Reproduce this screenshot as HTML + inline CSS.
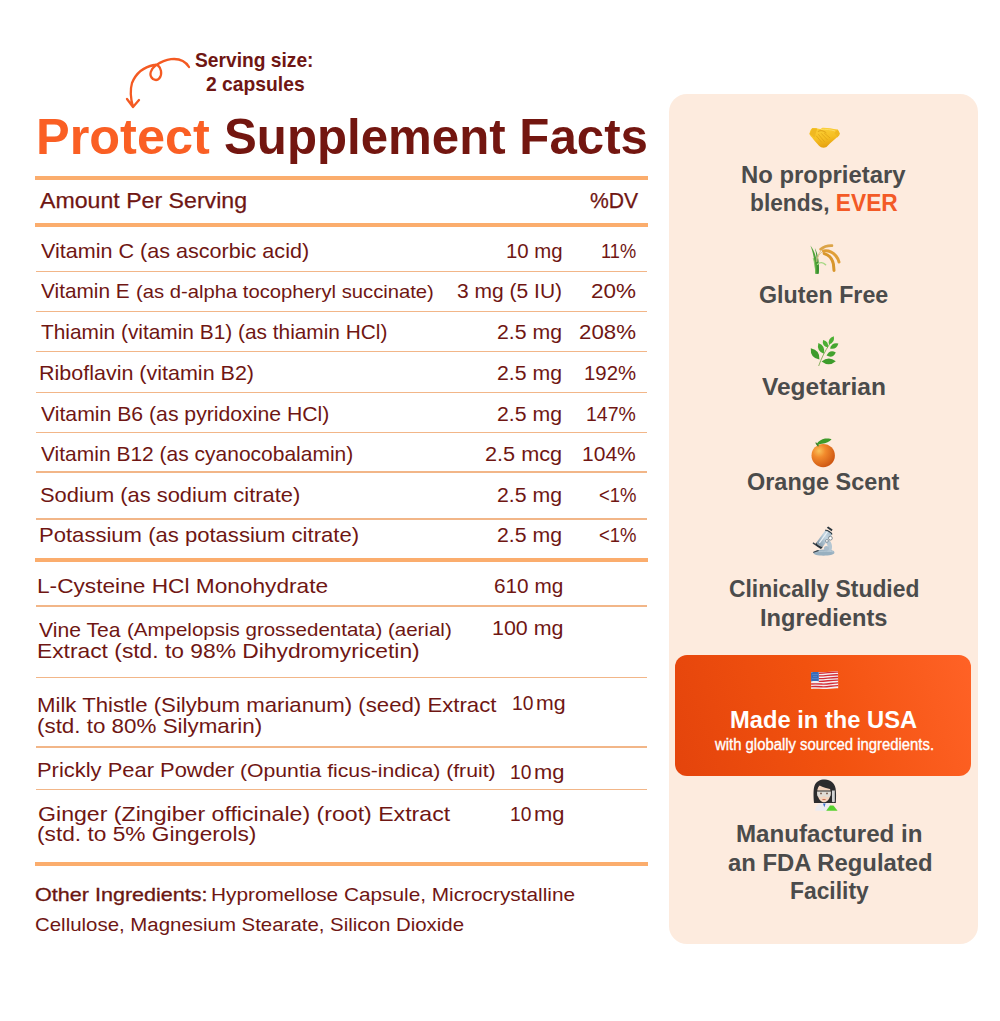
<!DOCTYPE html>
<html><head><meta charset="utf-8"><title>Protect Supplement Facts</title>
<style>
html,body{margin:0;padding:0;background:#ffffff;}
body{width:1000px;height:1021px;position:relative;overflow:hidden;font-family:"Liberation Sans",sans-serif;}
.t{position:absolute;white-space:nowrap;line-height:0;transform-origin:0 0;}
.rule{position:absolute;left:34.5px;width:613px;background:#fbad6d;}
.thick{height:4px;}
.thin{height:1.5px;background:#f2b688;left:36px;width:610.5px;}
#panel{position:absolute;left:668.6px;top:93.5px;width:309.4px;height:850px;border-radius:18px;background:#fdebde;}
#usa{position:absolute;left:675px;top:655.3px;width:296px;height:120.8px;border-radius:12px;background:linear-gradient(72deg,#e4440c 0%,#f2520f 50%,#ff6226 100%);}
.ico{position:absolute;}
</style></head>
<body>
<svg class="ico" style="left:0;top:0" width="200" height="120" viewBox="0 0 200 120">
<path d="M189,67 C185,60.6 178,58.4 171,59.2 C166,59.9 160,62.6 156,65.2 C151,69 148,75 153,79 C158,82 162,77 161,71 C160,66 157,64 154,65 C144,67 136,73 132,83 C130,90 131,100 133,107 M127,99 L133,107 L139,100" fill="none" stroke="#f45a22" stroke-width="2.3" stroke-linecap="round" stroke-linejoin="round"/>
</svg>
<div class="rule thick" style="top:175.5px"></div>
<div class="rule thick" style="top:223px"></div>
<div class="rule thin" style="top:270.8px"></div>
<div class="rule thin" style="top:310.7px"></div>
<div class="rule thin" style="top:350.5px"></div>
<div class="rule thin" style="top:391.7px"></div>
<div class="rule thin" style="top:431.6px"></div>
<div class="rule thin" style="top:471.3px"></div>
<div class="rule thin" style="top:518px"></div>
<div class="rule thick" style="top:558.2px"></div>
<div class="rule thin" style="top:605.4px"></div>
<div class="rule thin" style="top:676.9px"></div>
<div class="rule thin" style="top:746.1px"></div>
<div class="rule thin" style="top:788.8px"></div>
<div class="rule thick" style="top:862.2px"></div>
<div id="panel"></div>
<div id="usa"></div>
<svg class="ico" style="left:0;top:0;pointer-events:none" width="1000" height="1021" viewBox="0 0 1000 1021">
<defs>
<radialGradient id="gOr" cx="0.32" cy="0.3" r="0.8"><stop offset="0" stop-color="#f9c25a"/><stop offset="0.35" stop-color="#f28a2c"/><stop offset="1" stop-color="#c9500f"/></radialGradient>
<linearGradient id="gHs" x1="0" y1="0" x2="0.3" y2="1"><stop offset="0" stop-color="#fcd23a"/><stop offset="0.6" stop-color="#f6bf22"/><stop offset="1" stop-color="#e6a312"/></linearGradient>
<linearGradient id="gMic" x1="0" y1="0.5" x2="1" y2="0"><stop offset="0" stop-color="#8aa0b0"/><stop offset="0.5" stop-color="#c4d6e2"/><stop offset="1" stop-color="#9fb4c2"/></linearGradient>
</defs>
<!-- handshake -->
<g>
<path d="M809.40,134.00 C810.00,131.00 810.80,129.00 812.20,128.20 C815.00,127.60 818.00,128.60 820.40,129.00 L822.40,127.80 C827.00,127.60 832.00,128.60 837.60,129.60 C839.60,132.00 840.00,134.20 839.20,135.60 C836.00,138.40 831.00,142.00 826.50,147.00 C824.00,148.20 821.00,148.00 819.00,145.80 C816.00,142.50 813.00,139.00 812.00,137.60 C810.00,135.80 809.40,134.00 809.40,134.00 Z" fill="url(#gHs)"/>
<path d="M809.60,134.00 L812.20,128.20 L817.20,128.40 L814.60,137.40 Z" fill="#f0b820"/>
<path d="M837.60,129.60 L839.80,133.60 L837.40,137.60 L834.60,133.00 Z" fill="#f0b820"/>
<path d="M818.20,131.40 C820.50,130.00 823.50,130.60 826.00,132.60" stroke="#d99c12" stroke-width="0.9" fill="none" stroke-linecap="round"/>
<path d="M816.40,136.00 L821.40,142.00" stroke="#dca216" stroke-width="0.75" fill="none" stroke-linecap="round"/>
<path d="M818.60,134.60 L824.40,141.60" stroke="#dca216" stroke-width="0.75" fill="none" stroke-linecap="round"/>
<path d="M821.40,133.60 L827.20,139.60" stroke="#dca216" stroke-width="0.75" fill="none" stroke-linecap="round"/>
<path d="M824.40,133.20 L829.80,137.80" stroke="#dca216" stroke-width="0.75" fill="none" stroke-linecap="round"/>
<path d="M821.00,129.40 C826.00,129.00 831.00,129.60 835.00,131.00" stroke="#fde070" stroke-width="1" fill="none" opacity="0.8"/>
</g>
<!-- rice -->
<g>
<path d="M810.4,245.6 C813,252 815,261 815.2,273.8 L818.2,273.8 C818,262 815.5,252 810.4,245.6 Z" fill="#4ea238"/>
<path d="M814.8,248 C816.8,255 817.6,264 816.4,273.8 L818.8,273.8 C819.6,264 818.2,254 814.8,248 Z" fill="#3a9030"/>
<path d="M813.2,258 C814.5,262 815.5,268 815.8,273" stroke="#7cc45a" stroke-width="0.8" fill="none"/>
<path d="M817.6,264.2 C819.8,262.2 823.2,262.4 825.6,264.8" stroke="#a6d884" stroke-width="1.5" fill="none" stroke-linecap="round"/>
<path d="M816.8,262 C817.4,256 819.5,251 823,249" stroke="#d8c088" stroke-width="0.9" fill="none"/>
<path d="M817.5,258 C819,254 821,252 824,251.5" stroke="#d8c088" stroke-width="0.9" fill="none"/>
<path d="M820.5,249.2 C823.5,246.8 827.5,245.4 832,245.6" stroke="#dca447" stroke-width="2.6" fill="none" stroke-linecap="round"/>
<path d="M823.5,251 C828.5,250.2 833,252.5 836,256 C837.6,258 838.6,260 839,262" stroke="#e09e36" stroke-width="3" fill="none" stroke-linecap="round"/>
<path d="M824.2,253.6 C829,254.8 832.2,259 833.4,264 L834,270.4" stroke="#d8962c" stroke-width="3" fill="none" stroke-linecap="round"/>
</g>
<!-- herb -->
<g>
<path d="M818.8,365.6 C821.0,359.0 825.0,351.0 829.4,344.4" stroke="#8ab060" stroke-width="1" fill="none" stroke-linecap="round"/>
<path d="M810.80,348.20 Q809.99,357.75 819.40,359.60 Q820.21,350.05 810.80,348.20 Z" fill="#3e9a2c"/>
<path d="M821.60,361.60 Q828.86,367.20 835.80,361.20 Q828.54,355.60 821.60,361.60 Z" fill="#3d9c2b"/>
<path d="M818.40,343.00 Q816.27,350.81 823.80,353.80 Q825.93,345.99 818.40,343.00 Z" fill="#46a830"/>
<path d="M823.00,340.00 Q821.68,346.15 827.80,347.60 Q829.12,341.45 823.00,340.00 Z" fill="#4cae33"/>
<path d="M833.80,336.20 Q827.60,338.08 829.00,344.40 Q835.20,342.52 833.80,336.20 Z" fill="#4cb034"/>
<path d="M830.00,348.40 Q836.55,349.85 838.40,343.40 Q831.85,341.95 830.00,348.40 Z" fill="#45a630"/>
<path d="M826.60,355.60 Q832.84,358.72 835.80,352.40 Q829.56,349.28 826.60,355.60 Z" fill="#43a22e"/>
</g>
<!-- orange -->
<g>
<circle cx="823.2" cy="455.6" r="11.7" fill="url(#gOr)"/>
<path d="M816.4,444.4 C818.5,441 821.5,439.5 825,438.6 C828,438.2 830.5,438.6 831.6,439.2 C829.5,441.8 826,443.4 822,443.8 C820,444 818.5,444.5 817.2,446 Z" fill="#3e9a2a"/>
<path d="M816,443 L818.2,445.8" stroke="#3e7a2a" stroke-width="1.2" stroke-linecap="round"/>
</g>
<!-- microscope -->
<g>
<path d="M813.6,552.8 C814,550.8 819.5,549.6 825.5,549.6 C831.5,549.7 834.6,550.8 834.4,552.8 C834.2,554.8 829,555.7 823.5,555.7 C817.5,555.6 813.3,554.7 813.6,552.8 Z" fill="#98b0c0"/>
<path d="M814.5,552.2 C818,551 829,550.8 833.5,552" stroke="#c4d4de" stroke-width="0.7" fill="none"/>
<path d="M828.6,539.6 C832.2,542.6 832.8,547.6 831.2,551 L826.6,551 C828.4,548.4 828.2,544.8 825.6,542 Z" fill="#b4c6d2"/>
<circle cx="826.4" cy="548.6" r="2.5" fill="#a8bccb"/>
<path d="M813.2,542.2 L821.8,547.8 L821,549.2 L812.6,543.6 Z" fill="#3a454d"/>
<path d="M813.6,552.2 L818.2,550.6" stroke="#3a454d" stroke-width="1.2" stroke-linecap="round"/>
<path d="M816.6,542.2 L825.4,530.2 C827.2,529.4 832.2,532.6 832,534.6 L823,546.6 C821.4,547.6 815.8,544.2 816.6,542.2 Z" fill="url(#gMic)"/>
<path d="M819.6,542.6 L827.2,532.2" stroke="#eef4f8" stroke-width="1.3" stroke-linecap="round" opacity="0.9"/>
<path d="M816.6,542.2 C815.8,544.2 821.4,547.6 823,546.6 L822,548 C820.2,548.8 815.2,545.6 815.6,543.6 Z" fill="#262f36"/>
<path d="M825.2,530.4 C826.8,529.6 831.8,532.6 832,534.4" stroke="#2a343b" stroke-width="1.2" fill="none"/>
<path d="M826.8,527.8 L828.2,526.4 L832.6,529.4 L831.6,531.2 Z" fill="#2c363e"/>
<circle cx="830.4" cy="538.2" r="1.9" fill="#ffffff" stroke="#56646e" stroke-width="0.7"/>
<circle cx="826.9" cy="540.9" r="1.4" fill="#ffffff" stroke="#56646e" stroke-width="0.6"/>
</g>
<!-- flag -->
<g>
<path d="M811,672.5 C815,671.6 819,672 823,672.2 C828,672.4 833,671 838,671.3 L838.2,688.2 C833,687.8 828,689.2 823,689 C818.5,688.8 814.5,688.4 811.2,689 Z" fill="#f4f0f0"/>
<g stroke="#d52b35" stroke-width="1.35" fill="none">
<path d="M818.8,673.2 C825,673.4 831,671.9 838,672.1"/>
<path d="M818.8,675.9 C825,676.1 831,674.6 838,674.8"/>
<path d="M818.8,678.6 C825,678.8 831,677.3 838,677.5"/>
<path d="M818.8,681.3 C825,681.5 831,680 838,680.2"/>
<path d="M811.1,684 C815,683.6 819,683.9 823,684.1 C828,684.3 833,682.8 838.1,682.9"/>
<path d="M811.2,686.7 C815,686.3 819,686.6 823,686.8 C828,687 833,685.5 838.1,685.6"/>
</g>
<path d="M811,672.5 C813.5,672 816.5,672 818.8,672.2 L818.8,681.3 C816,681 813.5,681 811.1,681.4 Z" fill="#3a6bb8"/>
<g fill="#a8c4ec"><circle cx="813" cy="674.5" r="0.45"/><circle cx="815" cy="674.5" r="0.45"/><circle cx="817" cy="674.5" r="0.45"/><circle cx="814" cy="676.5" r="0.45"/><circle cx="816" cy="676.5" r="0.45"/><circle cx="813" cy="678.5" r="0.45"/><circle cx="815" cy="678.5" r="0.45"/><circle cx="817" cy="678.5" r="0.45"/></g>
</g>
<!-- scientist -->
<g>
<path d="M814,803 C813.4,796 813.2,789 814.6,785.6 C816.4,781.2 820.6,779.4 825,779.6 C830.4,779.8 834.6,783 835.6,788.6 C836.2,792.5 836.2,798 835.8,803 Z" fill="#2c2c2e"/>
<path d="M817.4,788.5 C817.8,785.5 820.5,784 824,784.4 C828.2,784.8 830.6,787.6 830.6,792 C830.6,797.6 828.4,801.8 824,802.2 C819.8,801.8 817.4,797.6 817.4,792 Z" fill="#f4d4be"/>
<path d="M816.6,787.5 C819.5,782.5 826.5,781.2 831.2,785.6 C831.8,787 831.6,788.2 831,789.2 C827,788.6 823,787.4 819.6,785.6 C818.6,786.6 817.8,787.8 817.4,789.4 Z" fill="#2c2c2e"/>
<path d="M817,791.2 C817.2,790.6 830.4,790.6 830.8,791.2 L830.6,795.2 C830.4,797 828.2,797.4 826.4,797.2 C825.4,797 824.8,796 824,796 C823.2,796 822.6,797 821.6,797.2 C819.6,797.4 817.4,797 817.2,795.2 Z" fill="#dddcd8" opacity="0.92"/>
<path d="M816.8,791 L831,791" stroke="#2a2a2a" stroke-width="1"/>
<circle cx="821" cy="793.4" r="0.85" fill="#6a4a3a"/><circle cx="827" cy="793.4" r="0.85" fill="#6a4a3a"/>
<path d="M822.8,799.6 L825.2,799.6" stroke="#c86850" stroke-width="1" stroke-linecap="round"/>
<path d="M832,790.4 L834.8,790.4 L834.8,801.6 C834.8,802.4 832,802.4 832,801.6 Z" fill="#d2d3d4"/>
<path d="M815.2,810.8 C815.4,806.2 818,803.6 822,803.2 L827.4,803.2 C830.6,803.6 832.2,806 832.4,810.8 Z" fill="#ecebf0"/>
<path d="M823,803.4 L825.6,803.4 L824.3,807.2 Z" fill="#3b6fd0"/>
<path d="M830,805.4 L833.4,805.4 L837.6,810.8 L826.2,810.8 Z" fill="#58d22e"/>
</g>
</svg>

<div class="t" style="left:195.39px;top:60.15px;font-size:19.768px;transform:scaleX(0.9724);color:#6f1613;font-weight:700;"><span style="">Serving size:</span></div>
<div class="t" style="left:205.89px;top:83.95px;font-size:19.768px;transform:scaleX(0.9767);color:#6f1613;font-weight:700;"><span style="">2 capsules</span></div>
<div class="t" style="left:35.65px;top:137.26px;font-size:50.873px;transform:scaleX(0.9920);color:#6f1613;font-weight:700;"><span style="color:#fa5f24;">Protect</span></div>
<div class="t" style="left:223.55px;top:137.26px;font-size:50.873px;transform:scaleX(0.9677);color:#6f1613;font-weight:700;"><span style="color:#731610;">Supplement Facts</span></div>
<div class="t" style="left:39.70px;top:201.09px;font-size:22.239px;transform:scaleX(1.0414);color:#6f1613;font-weight:400;-webkit-text-stroke:0.25px currentColor;"><span style="">Amount Per Serving</span></div>
<div class="t" style="left:590.29px;top:200.89px;font-size:22.239px;transform:scaleX(0.9504);color:#6f1613;font-weight:400;-webkit-text-stroke:0.25px currentColor;"><span style="">%DV</span></div>
<div class="t" style="left:135.81px;top:292.15px;font-size:19.186px;transform:scaleX(1.0547);color:#6f1613;font-weight:400;"><span style="">(as d-alpha tocopheryl succinate)</span></div>
<div class="t" style="left:40.87px;top:251.09px;font-size:21.076px;transform:scaleX(1.0241);color:#6f1613;font-weight:400;"><span style="">Vitamin C (as ascorbic acid)</span></div>
<div class="t" style="left:505.53px;top:251.09px;font-size:21.076px;transform:scaleX(0.9690);color:#6f1613;font-weight:400;"><span style="">10 mg</span></div>
<div class="t" style="left:600.99px;top:251.09px;font-size:21.076px;transform:scaleX(0.8654);color:#6f1613;font-weight:400;"><span style="">11%</span></div>
<div class="t" style="left:41.48px;top:291.49px;font-size:21.076px;transform:scaleX(0.9879);color:#6f1613;font-weight:400;"><span style="">Vitamin E</span></div>
<div class="t" style="left:456.73px;top:291.49px;font-size:21.076px;transform:scaleX(0.9976);color:#6f1613;font-weight:400;"><span style="">3 mg (5 IU)</span></div>
<div class="t" style="left:591.23px;top:291.49px;font-size:21.076px;transform:scaleX(1.0667);color:#6f1613;font-weight:400;"><span style="">20%</span></div>
<div class="t" style="left:40.50px;top:332.29px;font-size:21.076px;transform:scaleX(0.9900);color:#6f1613;font-weight:400;"><span style="">Thiamin (vitamin B1) (as thiamin HCl)</span></div>
<div class="t" style="left:497.29px;top:332.29px;font-size:21.076px;transform:scaleX(1.0093);color:#6f1613;font-weight:400;"><span style="">2.5 mg</span></div>
<div class="t" style="left:579.34px;top:332.29px;font-size:21.076px;transform:scaleX(1.0571);color:#6f1613;font-weight:400;"><span style="">208%</span></div>
<div class="t" style="left:39.21px;top:373.49px;font-size:21.076px;transform:scaleX(1.0205);color:#6f1613;font-weight:400;"><span style="">Riboflavin (vitamin B2)</span></div>
<div class="t" style="left:497.29px;top:373.49px;font-size:21.076px;transform:scaleX(1.0093);color:#6f1613;font-weight:400;"><span style="">2.5 mg</span></div>
<div class="t" style="left:584.13px;top:373.49px;font-size:21.076px;transform:scaleX(0.9670);color:#6f1613;font-weight:400;"><span style="">192%</span></div>
<div class="t" style="left:40.87px;top:413.89px;font-size:21.076px;transform:scaleX(1.0066);color:#6f1613;font-weight:400;"><span style="">Vitamin B6 (as pyridoxine HCl)</span></div>
<div class="t" style="left:497.29px;top:413.89px;font-size:21.076px;transform:scaleX(1.0093);color:#6f1613;font-weight:400;"><span style="">2.5 mg</span></div>
<div class="t" style="left:586.40px;top:413.89px;font-size:21.076px;transform:scaleX(0.9243);color:#6f1613;font-weight:400;"><span style="">147%</span></div>
<div class="t" style="left:40.88px;top:454.39px;font-size:21.076px;transform:scaleX(0.9964);color:#6f1613;font-weight:400;"><span style="">Vitamin B12 (as cyanocobalamin)</span></div>
<div class="t" style="left:485.17px;top:454.39px;font-size:21.076px;transform:scaleX(1.0299);color:#6f1613;font-weight:400;"><span style="">2.5 mcg</span></div>
<div class="t" style="left:582.48px;top:454.39px;font-size:21.076px;transform:scaleX(0.9981);color:#6f1613;font-weight:400;"><span style="">104%</span></div>
<div class="t" style="left:39.96px;top:495.49px;font-size:21.076px;transform:scaleX(1.0388);color:#6f1613;font-weight:400;"><span style="">Sodium (as sodium citrate)</span></div>
<div class="t" style="left:497.29px;top:495.49px;font-size:21.076px;transform:scaleX(1.0093);color:#6f1613;font-weight:400;"><span style="">2.5 mg</span></div>
<div class="t" style="left:598.62px;top:495.49px;font-size:21.076px;transform:scaleX(0.8780);color:#6f1613;font-weight:400;"><span style="">&lt;1%</span></div>
<div class="t" style="left:39.17px;top:535.49px;font-size:21.076px;transform:scaleX(1.0475);color:#6f1613;font-weight:400;"><span style="">Potassium (as potassium citrate)</span></div>
<div class="t" style="left:497.29px;top:535.49px;font-size:21.076px;transform:scaleX(1.0093);color:#6f1613;font-weight:400;"><span style="">2.5 mg</span></div>
<div class="t" style="left:598.62px;top:535.49px;font-size:21.076px;transform:scaleX(0.8780);color:#6f1613;font-weight:400;"><span style="">&lt;1%</span></div>
<div class="t" style="left:36.92px;top:586.49px;font-size:21.076px;transform:scaleX(1.0765);color:#6f1613;font-weight:400;"><span style="">L-Cysteine HCl Monohydrate</span></div>
<div class="t" style="left:493.91px;top:586.19px;font-size:21.076px;transform:scaleX(0.9868);color:#6f1613;font-weight:400;"><span style="">610 mg</span></div>
<div class="t" style="left:38.67px;top:629.59px;font-size:21.076px;transform:scaleX(1.0034);color:#6f1613;font-weight:400;"><span style="">Vine Tea</span></div>
<div class="t" style="left:126.70px;top:630.25px;font-size:19.186px;transform:scaleX(1.0692);color:#6f1613;font-weight:400;"><span style="">(Ampelopsis grossedentata) (aerial)</span></div>
<div class="t" style="left:36.91px;top:650.79px;font-size:21.076px;transform:scaleX(1.0826);color:#6f1613;font-weight:400;"><span style="">Extract (std. to 98% Dihydromyricetin)</span></div>
<div class="t" style="left:491.85px;top:628.49px;font-size:21.076px;transform:scaleX(1.0167);color:#6f1613;font-weight:400;"><span style="">100 mg</span></div>
<div class="t" style="left:36.96px;top:704.69px;font-size:21.076px;transform:scaleX(1.0534);color:#6f1613;font-weight:400;"><span style="">Milk Thistle (Silybum marianum) (seed) Extract</span></div>
<div class="t" style="left:37.47px;top:725.89px;font-size:21.076px;transform:scaleX(1.0625);color:#6f1613;font-weight:400;"><span style="">(std. to 80% Silymarin)</span></div>
<div class="t" style="left:512.21px;top:703.49px;font-size:21.076px;transform:scaleX(0.9143);color:#6f1613;font-weight:400;"><span style="">10</span></div>
<div class="t" style="left:536.31px;top:703.49px;font-size:21.076px;transform:scaleX(1.0113);color:#6f1613;font-weight:400;"><span style="">mg</span></div>
<div class="t" style="left:36.98px;top:769.99px;font-size:21.076px;transform:scaleX(1.0407);color:#6f1613;font-weight:400;"><span style="">Prickly Pear Powder</span></div>
<div class="t" style="left:240.16px;top:770.65px;font-size:19.186px;transform:scaleX(1.1055);color:#6f1613;font-weight:400;"><span style="">(Opuntia ficus-indica) (fruit)</span></div>
<div class="t" style="left:509.71px;top:772.49px;font-size:21.076px;transform:scaleX(0.9143);color:#6f1613;font-weight:400;"><span style="">10</span></div>
<div class="t" style="left:533.77px;top:772.49px;font-size:21.076px;transform:scaleX(1.0415);color:#6f1613;font-weight:400;"><span style="">mg</span></div>
<div class="t" style="left:37.70px;top:814.09px;font-size:21.076px;transform:scaleX(1.0980);color:#6f1613;font-weight:400;"><span style="">Ginger (Zingiber officinale) (root) Extract</span></div>
<div class="t" style="left:37.45px;top:834.39px;font-size:21.076px;transform:scaleX(1.0773);color:#6f1613;font-weight:400;"><span style="">(std. to 5% Gingerols)</span></div>
<div class="t" style="left:509.71px;top:814.39px;font-size:21.076px;transform:scaleX(0.9143);color:#6f1613;font-weight:400;"><span style="">10</span></div>
<div class="t" style="left:533.77px;top:814.39px;font-size:21.076px;transform:scaleX(1.0415);color:#6f1613;font-weight:400;"><span style="">mg</span></div>
<div class="t" style="left:35.00px;top:895.25px;font-size:18.896px;transform:scaleX(1.1425);color:#6f1613;font-weight:400;-webkit-text-stroke:0.30px currentColor;"><span style="color:#6a1610;">Other Ingredients: </span></div>
<div class="t" style="left:211.35px;top:895.25px;font-size:18.896px;transform:scaleX(1.1018);color:#6f1613;font-weight:400;"><span style="">Hypromellose Capsule, Microcrystalline</span></div>
<div class="t" style="left:34.92px;top:925.25px;font-size:18.896px;transform:scaleX(1.0819);color:#6f1613;font-weight:400;"><span style="">Cellulose, Magnesium Stearate, Silicon Dioxide</span></div>
<div class="t" style="left:741.33px;top:175.13px;font-size:24.710px;transform:scaleX(0.9668);color:#4b4b4b;font-weight:700;"><span style="">No proprietary</span></div>
<div class="t" style="left:749.81px;top:202.63px;font-size:24.710px;transform:scaleX(0.9199);color:#4b4b4b;font-weight:700;"><span style="color:#4b4b4b;">blends, </span><span style="color:#f35a26;">EVER</span></div>
<div class="t" style="left:759.36px;top:295.43px;font-size:24.710px;transform:scaleX(0.9418);color:#4b4b4b;font-weight:700;"><span style="">Gluten Free</span></div>
<div class="t" style="left:762.48px;top:387.23px;font-size:24.710px;transform:scaleX(0.9921);color:#4b4b4b;font-weight:700;"><span style="">Vegetarian</span></div>
<div class="t" style="left:747.05px;top:482.03px;font-size:24.710px;transform:scaleX(0.9487);color:#4b4b4b;font-weight:700;"><span style="">Orange Scent</span></div>
<div class="t" style="left:728.78px;top:589.13px;font-size:24.710px;transform:scaleX(0.9244);color:#4b4b4b;font-weight:700;"><span style="">Clinically Studied</span></div>
<div class="t" style="left:760.44px;top:617.73px;font-size:24.710px;transform:scaleX(0.9571);color:#4b4b4b;font-weight:700;"><span style="">Ingredients</span></div>
<div class="t" style="left:729.67px;top:719.53px;font-size:24.419px;transform:scaleX(0.9718);color:#ffffff;font-weight:700;"><span style="">Made in the USA</span></div>
<div class="t" style="left:714.50px;top:744.96px;font-size:15.989px;transform:scaleX(0.9311);color:#ffffff;font-weight:400;-webkit-text-stroke:0.35px currentColor;"><span style="">with globally sourced ingredients.</span></div>
<div class="t" style="left:736.41px;top:833.83px;font-size:24.710px;transform:scaleX(0.9779);color:#4b4b4b;font-weight:700;"><span style="">Manufactured in</span></div>
<div class="t" style="left:727.68px;top:862.63px;font-size:24.710px;transform:scaleX(0.9661);color:#4b4b4b;font-weight:700;"><span style="">an FDA Regulated</span></div>
<div class="t" style="left:790.10px;top:890.73px;font-size:24.710px;transform:scaleX(0.9247);color:#4b4b4b;font-weight:700;"><span style="">Facility</span></div>
</body></html>
